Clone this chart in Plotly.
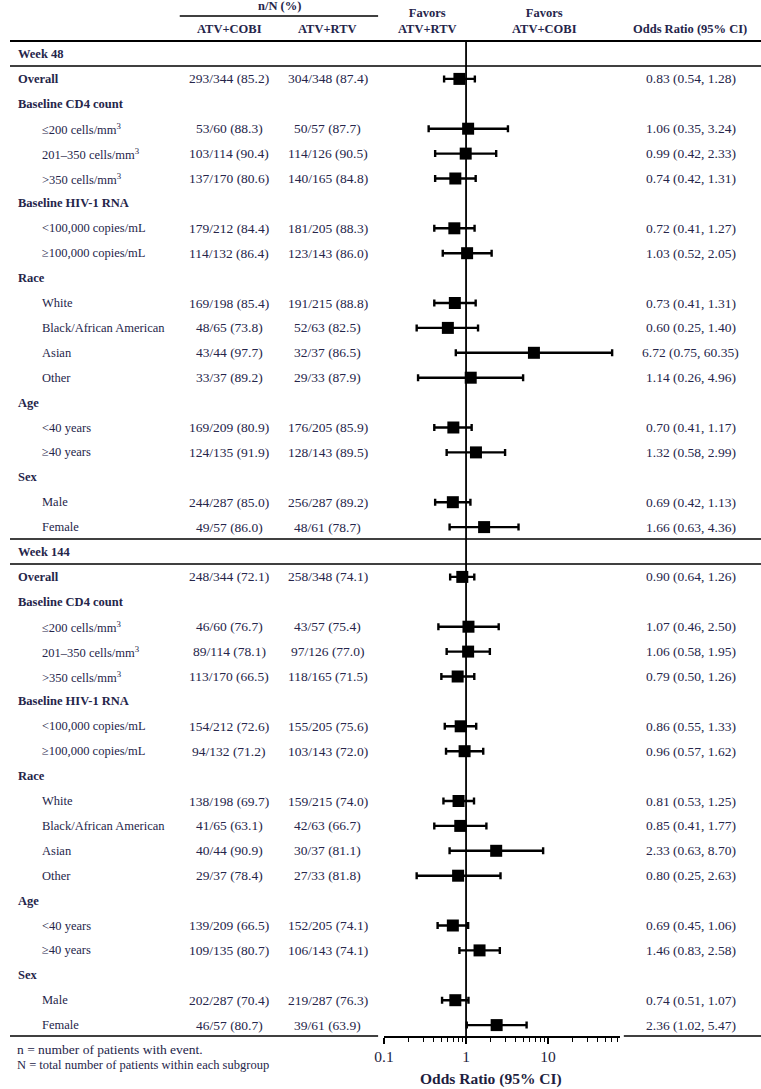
import math
import plotly.graph_objects as go

# ---------------- data ----------------
weeks = ["Week 48", "Week 144"]

row_labels = ["Overall", "Baseline CD4 count", "≤200 cells/mm<sup>3</sup>", "201–350 cells/mm<sup>3</sup>",
              ">350 cells/mm<sup>3</sup>", "Baseline HIV-1 RNA", "<100,000 copies/mL", "≥100,000 copies/mL",
              "Race", "White", "Black/African American", "Asian", "Other",
              "Age", "<40 years", "≥40 years", "Sex", "Male", "Female"]
# kind: 'data_bold' (Overall), 'head' (category heading), 'sub' (indented subgroup)
row_kinds = ["data_bold", "head", "sub", "sub", "sub", "head", "sub", "sub",
             "head", "sub", "sub", "sub", "sub", "head", "sub", "sub", "head", "sub", "sub"]

cobi_w48 = ["293/344 (85.2)", None, "53/60 (88.3)", "103/114 (90.4)", "137/170 (80.6)", None,
            "179/212 (84.4)", "114/132 (86.4)", None, "169/198 (85.4)", "48/65 (73.8)", "43/44 (97.7)",
            "33/37 (89.2)", None, "169/209 (80.9)", "124/135 (91.9)", None, "244/287 (85.0)", "49/57 (86.0)"]
rtv_w48 = ["304/348 (87.4)", None, "50/57 (87.7)", "114/126 (90.5)", "140/165 (84.8)", None,
           "181/205 (88.3)", "123/143 (86.0)", None, "191/215 (88.8)", "52/63 (82.5)", "32/37 (86.5)",
           "29/33 (87.9)", None, "176/205 (85.9)", "128/143 (89.5)", None, "256/287 (89.2)", "48/61 (78.7)"]
or_w48 = [0.83, None, 1.06, 0.99, 0.74, None, 0.72, 1.03, None, 0.73, 0.60, 6.72, 1.14, None, 0.70, 1.32, None, 0.69, 1.66]
lo_w48 = [0.54, None, 0.35, 0.42, 0.42, None, 0.41, 0.52, None, 0.41, 0.25, 0.75, 0.26, None, 0.41, 0.58, None, 0.42, 0.63]
hi_w48 = [1.28, None, 3.24, 2.33, 1.31, None, 1.27, 2.05, None, 1.31, 1.40, 60.35, 4.96, None, 1.17, 2.99, None, 1.13, 4.36]

cobi_w144 = ["248/344 (72.1)", None, "46/60 (76.7)", "89/114 (78.1)", "113/170 (66.5)", None,
             "154/212 (72.6)", "94/132 (71.2)", None, "138/198 (69.7)", "41/65 (63.1)", "40/44 (90.9)",
             "29/37 (78.4)", None, "139/209 (66.5)", "109/135 (80.7)", None, "202/287 (70.4)", "46/57 (80.7)"]
rtv_w144 = ["258/348 (74.1)", None, "43/57 (75.4)", "97/126 (77.0)", "118/165 (71.5)", None,
            "155/205 (75.6)", "103/143 (72.0)", None, "159/215 (74.0)", "42/63 (66.7)", "30/37 (81.1)",
            "27/33 (81.8)", None, "152/205 (74.1)", "106/143 (74.1)", None, "219/287 (76.3)", "39/61 (63.9)"]
or_w144 = [0.90, None, 1.07, 1.06, 0.79, None, 0.86, 0.96, None, 0.81, 0.85, 2.33, 0.80, None, 0.69, 1.46, None, 0.74, 2.36]
lo_w144 = [0.64, None, 0.46, 0.58, 0.50, None, 0.55, 0.57, None, 0.53, 0.41, 0.63, 0.25, None, 0.45, 0.83, None, 0.51, 1.02]
hi_w144 = [1.26, None, 2.50, 1.95, 1.26, None, 1.33, 1.62, None, 1.25, 1.77, 8.70, 2.63, None, 1.06, 2.58, None, 1.07, 5.47]

x_tickvals = [0.1, 1, 10]
x_ticktext = ["0.1", "1", "10"]

# ---------------- layout constants ----------------
W, H = 761, 1089
ROW0, STEP = 54, 24.9          # pixel y of first row, row spacing
AXIS_Y = 1036                  # pixel y of x-axis line
TXT = "#25254a"
FONT = "Liberation Serif"
FS = 12.5
FS_NUM = 13.5

def pix(i):
    return ROW0 + STEP * i

def py(p):  # pixel y -> paper
    return 1 - p / H

def px(p):  # pixel x -> paper
    return p / W

annotations = []
shapes = []

def text(x, y, s, bold=False, anchor="center", size=FS, yref="paper", color=TXT):
    annotations.append(dict(x=x, y=y, xref="paper", yref=yref, text=f"<b>{s}</b>" if bold else s,
                            showarrow=False, xanchor=anchor, yanchor="middle",
                            font=dict(family=FONT, size=size, color=color)))

def hline(ypix, x0, x1, w=1.5):
    shapes.append(dict(type="line", xref="paper", yref="paper", x0=px(x0), x1=px(x1),
                       y0=py(ypix), y1=py(ypix), line=dict(color="black", width=w)))

# header
text(px(273), py(6), "n/N (%)", bold=True)
hline(16, 172, 373, 1.5)
text(px(222), py(29), "ATV+COBI", bold=True)
text(px(322), py(29), "ATV+RTV", bold=True)
text(px(423), py(21), "Favors<br>ATV+RTV", bold=True)
text(px(542), py(21), "Favors<br>ATV+COBI", bold=True)
text(px(689), py(29), "Odds Ratio (95% CI)", bold=True)

# rows
ys, xs, ep, em = [], [], [], []
week_data = [(cobi_w48, rtv_w48, or_w48, lo_w48, hi_w48), (cobi_w144, rtv_w144, or_w144, lo_w144, hi_w144)]
idx = 0
for wk, (cobi, rtv, ors, los, his) in zip(weeks, week_data):
    text(px(6), idx, wk, bold=True, anchor="left", yref="y")
    hline(pix(idx) - 13, 0, W, 2 if idx == 0 else 1.5)
    hline(pix(idx) + 12, 0, W, 1.5)
    idx += 1
    for lab, kind, c, r, o, lo, hi in zip(row_labels, row_kinds, cobi, rtv, ors, los, his):
        if kind == "sub":
            text(px(30), idx, lab, anchor="left", yref="y")
        else:
            text(px(6), idx, lab, bold=True, anchor="left", yref="y")
        if c is not None:
            text(px(222), idx, c, yref="y", size=FS_NUM)
            text(px(322), idx, r, yref="y", size=FS_NUM)
            text(px(690), idx, f"{o:.2f} ({lo:.2f}, {hi:.2f})", yref="y", size=FS_NUM)
            ys.append(idx); xs.append(o); ep.append(hi - o); em.append(o - lo)
        idx += 1

# bottom line (split around axis)
hline(AXIS_Y, 0, 373, 1.5)
hline(AXIS_Y, 622, W, 1.5)

# footnotes
text(px(5), py(1049), "n = number of patients with event.", anchor="left", size=13.5)
text(px(5), py(1065), "N = total number of patients within each subgroup", anchor="left", size=12.5)
# axis title
text(px(487), py(1079), "Odds Ratio (95% CI)", bold=True, size=15.5, color="#1e1e40")

# reference line at OR = 1
shapes.append(dict(type="line", xref="x", yref="paper", x0=1, x1=1, y0=py(AXIS_Y), y1=py(41),
                   line=dict(color="black", width=1.8)))

fig = go.Figure()
fig.add_trace(go.Scatter(
    x=xs, y=ys, mode="markers",
    marker=dict(symbol="square", size=12, color="black"),
    error_x=dict(type="data", symmetric=False, array=ep, arrayminus=em,
                 color="black", thickness=2.4, width=3.5),
    showlegend=False, hoverinfo="skip"))

x_lo, x_hi = 0.1, 75
minor_vals = [m * d for d in (0.1, 1, 10) for m in range(2, 10) if m * d < x_hi]

fig.update_layout(
    width=W, height=H, margin=dict(l=0, r=0, t=0, b=0),
    paper_bgcolor="white", plot_bgcolor="rgba(0,0,0,0)",
    annotations=annotations, shapes=shapes,
    xaxis=dict(type="log", range=[math.log10(x_lo), math.log10(x_hi)],
               domain=[px(379), px(618)], anchor="y",
               showline=True, linecolor="black", linewidth=1.5,
               tickvals=x_tickvals, ticktext=x_ticktext, ticks="outside", ticklen=6,
               tickwidth=1.5, tickcolor="black",
               minor=dict(tickvals=minor_vals, ticks="outside", ticklen=4, tickwidth=1.2,
                          tickcolor="black", showgrid=False),
               tickfont=dict(family=FONT, size=15.5, color="#1e1e40"),
               showgrid=False, zeroline=False, fixedrange=True),
    yaxis=dict(range=[(AXIS_Y - ROW0) / STEP, -ROW0 / STEP], domain=[1 - AXIS_Y / H, 1],
               showgrid=False, zeroline=False, showticklabels=False, showline=False,
               fixedrange=True),
)

fig.write_html("out.html", config={"displayModeBar": False},
               post_script="document.body.style.margin='0';document.body.style.padding='0';"
                           "document.documentElement.style.overflow='hidden';")
